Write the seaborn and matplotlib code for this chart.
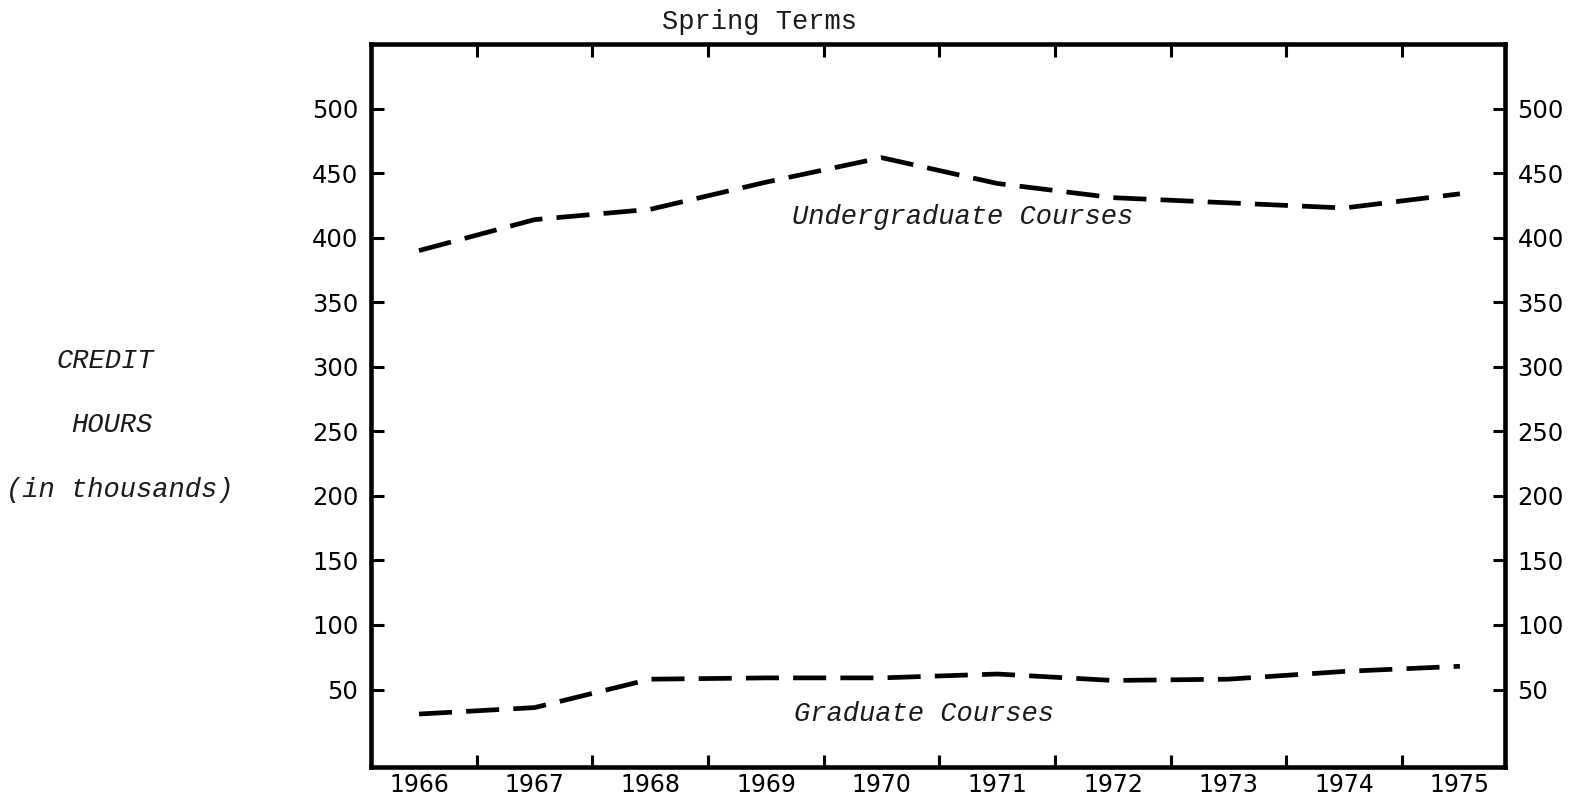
import matplotlib
matplotlib.use("Agg")
import matplotlib.pyplot as plt
import seaborn as sns
import pandas as pd
import numpy as np
from matplotlib.ticker import FixedLocator

# ---- data ----
years = [1966, 1967, 1968, 1969, 1970, 1971, 1972, 1973, 1974, 1975]
undergraduate = [390, 414, 422, 443, 462, 442, 431, 427, 423, 434]
graduate = [31, 36, 58, 59, 59, 62, 57, 58, 64, 68]
y_ticks = [50, 100, 150, 200, 250, 300, 350, 400, 450, 500]

sns.set_theme(style="white")
plt.rcParams['font.family'] = ['DejaVu Sans']

fig = plt.figure(figsize=(15.72, 8.01), dpi=100)
ax = fig.add_axes([0.236, 0.0425, 0.7214, 0.9025])

df = pd.DataFrame({"year": years + years,
                   "hours": undergraduate + graduate,
                   "course": ["Undergraduate"] * len(years) + ["Graduate"] * len(years)})

for name in ["Undergraduate", "Graduate"]:
    sub = df[df["course"] == name]
    sns.lineplot(data=sub, x="year", y="hours", ax=ax, color="black",
                 lw=3.4, linestyle=(0, (7, 3)), legend=False)

ax.set_xlim(1965.585, 1975.39)
ax.set_ylim(-10, 550)

# spines
for s in ax.spines.values():
    s.set_visible(True)
    s.set_color("black")
    s.set_linewidth(3.3)

mono = ['Liberation Mono', 'DejaVu Sans Mono']

# x axis: labels at years (no marks), tick marks between years
ax.xaxis.set_major_locator(FixedLocator(years))
ax.set_xticklabels([str(y) for y in years], fontsize=17, color="black")
ax.xaxis.set_minor_locator(FixedLocator([y + 0.5 for y in years[:-1]]))
ax.tick_params(axis="x", which="major", length=0, pad=4, bottom=True, top=False)
ax.tick_params(axis="x", which="minor", direction="in", length=9, width=2.2,
               bottom=True, top=True, color="black")

# y axis: both sides
ax.yaxis.set_major_locator(FixedLocator(y_ticks))
ax.set_yticklabels([str(v) for v in y_ticks], fontsize=17.5, color="black")
ax.tick_params(axis="y", which="major", direction="in", length=9, width=2.2,
               left=True, right=True, labelleft=True, labelright=True,
               color="black", pad=9)
ax.set_xlabel("")
ax.set_ylabel("")
ax.grid(False)

# annotations
ax.text(1970.70, 416, "Undergraduate Courses", fontsize=19.5, style="italic",
        family=mono, ha="center", va="center", color="#1a1a1a")
ax.text(1970.37, 31, "Graduate Courses", fontsize=19.5, style="italic",
        family=mono, ha="center", va="center", color="#1a1a1a")
ax.text(0.343, 1.013, "Spring Terms", transform=ax.transAxes, fontsize=19.5,
        family=mono, ha="center", va="bottom", color="#1a1a1a")

fig.text(0.0668, 0.5493, "CREDIT", fontsize=19.5, style="italic", family=mono,
         ha="center", va="center", color="#1a1a1a")
fig.text(0.0712, 0.4694, "HOURS", fontsize=19.5, style="italic", family=mono,
         ha="center", va="center", color="#1a1a1a")
fig.text(0.0763, 0.388, "(in thousands)", fontsize=19.5, style="italic", family=mono,
         ha="center", va="center", color="#1a1a1a")

fig.savefig("out.png", dpi=100, facecolor="white")
